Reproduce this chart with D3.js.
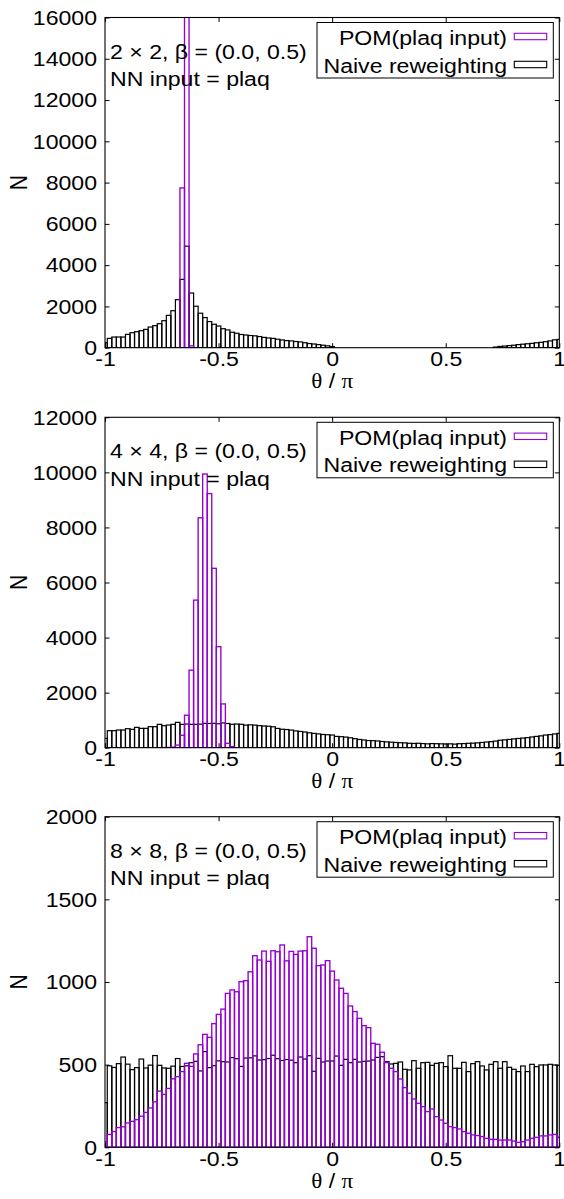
<!DOCTYPE html>
<html><head><meta charset="utf-8">
<script src="https://cdn.jsdelivr.net/npm/d3@7"></script>
<style>body{margin:0;background:#fff}</style>
</head><body><svg id="c" width="564" height="1199"></svg>
<script>
// ---------------- data ----------------
const binCenters = d3.range(101).map(k => -1 + k * 0.02);   // bin centres of theta/pi
const binWidth = 0.02;
const xTicks = [-1, -0.5, 0, 0.5, 1];
const xTickLabels = ["-1", "-0.5", "0", "0.5", "1"];
const seriesNames = ["POM(plaq input)", "Naive reweighting"];
const lattices = ["2 \u00d7 2", "4 \u00d7 4", "8 \u00d7 8"];
const yTicks1 = [0, 2000, 4000, 6000, 8000, 10000, 12000, 14000, 16000];
const yTicks2 = [0, 2000, 4000, 6000, 8000, 10000, 12000];
const yTicks3 = [0, 500, 1000, 1500, 2000];

// panel 1 (2x2)
const p1Naive = [240,452,517,517,517,646,727,775,824,888,1001,1066,1163,1308,1567,1793,2326,3311,4920,2650,
 2010,1670,1460,1265,1135,1050,920,860,750,700,640,615,590,575,540,500,470,450,410,375,
 345,330,300,280,240,200,180,150,120,90,50,0,0,0,0,0,0,0,0,0,
 0,0,0,0,0,0,0,0,0,0,0,0,0,0,0,0,0,0,0,0,
 0,0,0,0,0,0,30,60,80,100,120,150,170,190,210,240,260,290,330,380,400];
const p1Pom = [0,0,0,0,0,0,0,0,0,0,0,0,0,0,0,0,0,7742,25000,90,
 0,0,0,0,0,0,0,0,0,0,0,0,0,0,0,0,0,0,0,0,
 0,0,0,0,0,0,0,0,0,0,0,0,0,0,0,0,0,0,0,0,
 0,0,0,0,0,0,0,0,0,0,0,0,0,0,0,0,0,0,0,0,
 0,0,0,0,0,0,0,0,0,0,0,0,0,0,0,0,0,0,0,0,0];

// panel 2 (4x4)
const p2Naive = [339,618,618,642,642,690,666,739,702,702,763,763,848,799,823,848,920,848,860,848,
 850,855,884,880,885,870,900,880,850,860,850,820,830,820,800,790,780,760,700,670,
 660,640,610,590,570,540,520,500,480,470,460,410,400,385,360,330,300,280,260,255,
 245,225,210,200,190,180,175,160,155,160,150,140,150,145,140,135,140,130,145,150,
 160,165,175,190,205,220,240,270,285,300,320,335,350,365,390,410,430,460,475,500,520];
const p2Pom = [0,0,0,0,0,0,0,0,0,0,0,0,0,5,10,20,95,450,1180,2815,
 5360,8350,9940,9230,6515,3670,1590,160,40,0,0,0,0,0,0,0,0,0,0,0,
 0,0,0,0,0,0,0,0,0,0,0,0,0,0,0,0,0,0,0,0,
 0,0,0,0,0,0,0,0,0,0,0,0,0,0,0,0,0,0,0,0,
 0,0,0,0,0,0,0,0,0,0,0,0,0,0,0,0,0,0,0,0,0];

// panel 3 (8x8)
const p3Naive = [270,493,483,506,546,503,470,482,534,480,497,555,496,480,478,491,537,489,493,512,
 520,462,579,482,494,523,518,516,543,536,489,540,541,553,528,530,537,557,536,525,
 531,527,512,546,534,554,460,538,516,522,522,552,496,532,512,532,516,520,522,528,
 544,548,518,504,508,516,472,468,524,478,512,514,496,508,512,488,554,478,478,514,
 458,506,518,492,468,502,518,478,518,484,472,458,492,458,502,488,498,498,502,498,495];
const p3Pom = [34,78,95,119,124,147,157,167,188,211,238,275,340,320,356,414,427,458,508,490,
 565,620,683,665,748,804,836,931,952,941,1002,1008,1062,1159,1133,1187,1125,1189,1183,1224,
 1128,1185,1167,1187,1189,1274,1204,1099,1103,1129,1066,1012,962,931,855,821,780,736,724,629,
 623,575,512,478,458,413,361,327,292,266,246,216,232,185,165,145,125,119,111,95,
 85,75,71,65,54,48,48,44,44,44,38,30,34,44,54,60,69,69,75,78,60];

// ---------------- layout ----------------
const W = 564, H = 1199;
const L = 105, R = 559.3;
const FONT = "'Liberation Sans', Arial, Helvetica, sans-serif";
const SERIF = "'Liberation Serif', 'DejaVu Serif', serif";
const FS = 21, SX = 1.1;
const purple = "#9400d3";

const panels = [
  {top: 17.5, bottom: 347.7, ymax: 16000, yTicks: yTicks1, naive: p1Naive, pom: p1Pom, lat: lattices[0]},
  {top: 417.3, bottom: 747.7, ymax: 12000, yTicks: yTicks2, naive: p2Naive, pom: p2Pom, lat: lattices[1]},
  {top: 816.7, bottom: 1147.3, ymax: 2000, yTicks: yTicks3, naive: p3Naive, pom: p3Pom, lat: lattices[2]}
];

const svg = d3.select("#c");
svg.append("rect").attr("width", W).attr("height", H).attr("fill", "#fff");

function stretchText(sel) {
  sel.each(function () {
    const t = d3.select(this);
    const x = +t.attr("x") || 0, y = +t.attr("y") || 0;
    t.attr("x", null).attr("y", null)
     .attr("transform", `translate(${x},${y}) scale(${SX},1)`);
  });
}
function txt(g, x, y, anchor) {
  return g.append("text")
    .attr("transform", `translate(${x},${y}) scale(${SX},1)`)
    .attr("text-anchor", anchor)
    .attr("font-family", FONT).attr("font-size", FS).attr("fill", "#000");
}

panels.forEach((p, i) => {
  const x = d3.scaleLinear().domain([-1, 1]).range([L, R]);
  const y = d3.scaleLinear().domain([0, p.ymax]).range([p.bottom, p.top]);
  const g = svg.append("g");
  const clipId = "clip" + i;
  svg.append("clipPath").attr("id", clipId).append("rect")
    .attr("x", L).attr("y", p.top).attr("width", R - L).attr("height", p.bottom - p.top);

  const bars = g.append("g").attr("clip-path", `url(#${clipId})`);
  function drawSeries(vals, color, sw) {
    const data = binCenters.map((c, k) => ({c, v: vals[k]})).filter(d => d.v > 0);
    bars.append("g").selectAll("rect").data(data).join("rect")
      .attr("x", d => x(d.c - binWidth / 2))
      .attr("width", d => x(d.c + binWidth / 2) - x(d.c - binWidth / 2))
      .attr("y", d => y(d.v))
      .attr("height", d => y(0) - y(d.v))
      .attr("fill", "none").attr("stroke", color).attr("stroke-width", sw);
  }
  drawSeries(p.naive, "#000", 1.2);
  drawSeries(p.pom, purple, 1.35);

  // axes (ticks inward, mirrored)
  const ax = g.append("g").attr("font-family", FONT);
  const bottomAxis = d3.axisBottom(x).tickValues(xTicks)
    .tickFormat((d, j) => xTickLabels[j]).tickSizeInner(-4.5).tickSizeOuter(0).tickPadding(3.8);
  const gb = ax.append("g").attr("transform", `translate(0,${p.bottom})`).call(bottomAxis);
  const topAxis = d3.axisTop(x).tickValues(xTicks).tickFormat("").tickSizeInner(-4.5).tickSizeOuter(0);
  ax.append("g").attr("transform", `translate(0,${p.top})`).call(topAxis);
  const leftAxis = d3.axisLeft(y).tickValues(p.yTicks).tickFormat(d => String(d))
    .tickSizeInner(-4.5).tickSizeOuter(0).tickPadding(8);
  const gl = ax.append("g").attr("transform", `translate(${L},0)`).call(leftAxis);
  const rightAxis = d3.axisRight(y).tickValues(p.yTicks).tickFormat("").tickSizeInner(-4.5).tickSizeOuter(0);
  ax.append("g").attr("transform", `translate(${R},0)`).call(rightAxis);
  ax.selectAll(".domain").remove();
  ax.selectAll(".tick line").attr("stroke", "#000").attr("stroke-width", 1);
  ax.selectAll(".tick text").attr("font-size", FS).attr("fill", "#000");
  stretchText(gb.selectAll(".tick text"));
  stretchText(gl.selectAll(".tick text"));

  // frame
  g.append("rect").attr("x", L).attr("y", p.top).attr("width", R - L).attr("height", p.bottom - p.top)
    .attr("fill", "none").attr("stroke", "#000").attr("stroke-width", 1.1);

  // axis titles
  const xt = txt(g, (L + R) / 2, p.bottom + 40.5, "middle");
  xt.append("tspan").attr("font-family", SERIF).text("\u03b8");
  xt.append("tspan").text(" / ");
  xt.append("tspan").attr("font-family", SERIF).text("\u03c0");
  g.append("text")
    .attr("transform", `translate(27,${(p.top + p.bottom) / 2}) rotate(-90) scale(1,${SX})`)
    .attr("text-anchor", "middle").attr("font-family", FONT).attr("font-size", FS).text("N");

  // annotation
  txt(g, 110, p.top + 41, "start").text(`${p.lat}, \u03b2 = (0.0, 0.5)`);
  txt(g, 110, p.top + 68.5, "start").text("NN input = plaq");

  // legend
  const lg = g.append("g");
  lg.append("rect").attr("x", 317).attr("y", p.top + 5).attr("width", 236.3).attr("height", 55.5)
    .attr("fill", "#fff").attr("stroke", "#000").attr("stroke-width", 1);
  const rows = [{name: seriesNames[0], color: purple, ty: 27.5, sy: 19},
                {name: seriesNames[1], color: "#000", ty: 55, sy: 47}];
  rows.forEach(r => {
    txt(lg, 507, p.top + r.ty, "end").text(r.name);
    lg.append("rect").attr("x", 514.3).attr("y", p.top + r.sy - 3.2).attr("width", 32.4).attr("height", 6.4)
      .attr("fill", "#fff").attr("stroke", r.color).attr("stroke-width", 1.1);
  });
});
</script>
</body></html>
